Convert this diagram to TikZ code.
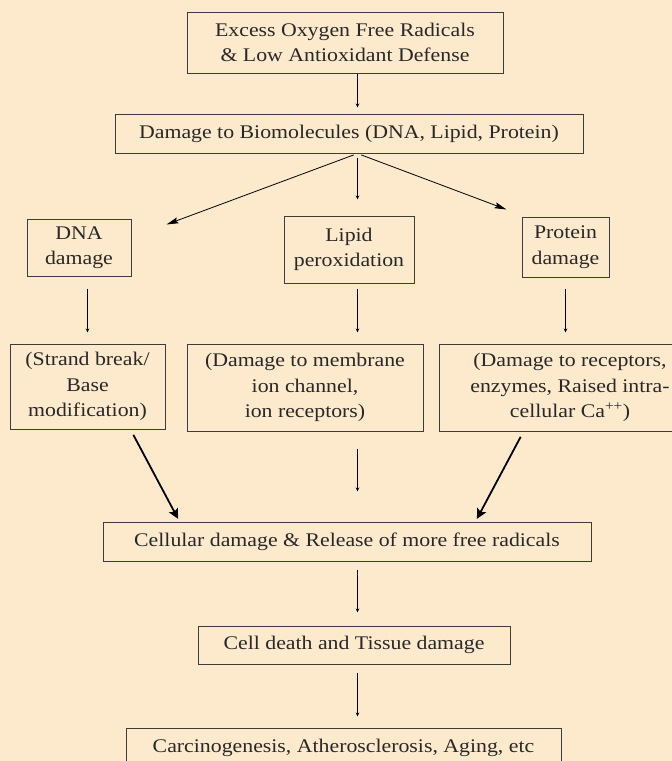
\documentclass[tikz,border=0pt]{standalone}
\usepackage{fontspec}
\setmainfont{Liberation Serif}[FakeStretch=1.13]
\usetikzlibrary{arrows.meta,positioning,calc}
\definecolor{paper}{RGB}{253,234,205}
\definecolor{boxline}{RGB}{60,60,60}
\definecolor{txt}{RGB}{40,40,40}
\tikzset{
block/.style = {draw=boxline, line width=1pt, rectangle, align=center, inner sep=0pt, text=txt, font=\fontsize{19.3}{25.5}\selectfont},
tmp/.style = {coordinate},
thin arrow/.style = {-{Stealth[length=4pt,width=3.5pt]}, line width=0.8pt},
fan arrow/.style = {-{Stealth[length=12pt,width=6pt,inset=2pt]}, line width=0.8pt},
thick arrow/.style = {-{Stealth[length=10pt,width=10pt,inset=2pt]}, line width=1.8pt}
}

\begin{document}
\begin{tikzpicture}[auto, node distance=100pt]
\useasboundingbox (0,0) rectangle (672pt,-761pt);
\fill[paper] (0,0) rectangle (672pt,-761pt);
\coordinate (axis) at (357.5pt,0);
% main column
\node[block, minimum width=316pt, minimum height=61pt] (excess) at (345pt,-42.5pt) {Excess Oxygen Free Radicals\\ \& Low Antioxidant Defense};
\node[block, below of=excess, node distance=91pt, xshift=4pt, minimum width=468pt, minimum height=39pt] (biomol) {Damage to Biomolecules (DNA, Lipid, Protein)};
\node[block, below of=biomol, node distance=116pt, minimum width=130pt, minimum height=67pt] (lipid) {Lipid\\peroxidation};
\node[block, left of=lipid, node distance=270pt, yshift=2pt, minimum width=104pt, minimum height=57pt] (dna) {DNA\\damage};
\node[block, right of=lipid, node distance=216.5pt, yshift=2.5pt, minimum width=87pt, minimum height=60pt] (protein) {Protein\\damage};
\node[block, below of=lipid, node distance=138pt, xshift=-44pt, minimum width=236pt, minimum height=87pt] (membrane) {(Damage to membrane\\ion channel,\\ion receptors)};
\node[block, left of=membrane, node distance=217.5pt, yshift=1pt, minimum width=155pt, minimum height=85pt] (strand) {(Strand break/\\Base\\modification)};
\node[block, right of=membrane, node distance=265pt, minimum width=262pt, minimum height=87pt] (receptors) {(Damage to receptors,\\enzymes, Raised intra-\\cellular Ca\textsuperscript{++})};
\node[block, below of=membrane, node distance=154pt, xshift=42pt, minimum width=488pt, minimum height=39pt] (cellular) {Cellular damage \& Release of more free radicals};
\node[block, below of=cellular, node distance=103.5pt, xshift=7pt, minimum width=312pt, minimum height=38pt] (death) {Cell death and Tissue damage};
\node[block, below of=death, node distance=102.5pt, xshift=-10.5pt, minimum width=435pt, minimum height=39pt] (carcino) {Carcinogenesis, Atherosclerosis, Aging, etc};
% free ends of the slanted arrows
\coordinate (dnatip) at ([xshift=35pt,yshift=-6pt]dna.north east);
\coordinate (proteintip) at ([xshift=-15pt,yshift=7pt]protein.north west);
\coordinate (strandfoot) at ([xshift=-35pt]strand.south east);
\coordinate (recfoot) at ([xshift=85pt]receptors.south west);
\coordinate (cellL) at ([xshift=77pt]cellular.north west);
\coordinate (cellR) at ([xshift=-116pt]cellular.north east);
% arrows
\draw[thin arrow, shorten >=6pt] (excess.south -| axis) -- (biomol.north -| axis);
\draw[fan arrow, shorten <=4pt] (biomol.south -| axis) -- (dnatip);
\draw[thin arrow, shorten <=4pt, shorten >=16pt] (biomol.south -| axis) -- (lipid.north -| axis);
\draw[fan arrow, shorten <=4pt] (biomol.south -| axis) -- (proteintip);
\draw[thin arrow, shorten <=12pt, shorten >=11pt] (dna.south -| strand.north) -- (strand.north);
\draw[thin arrow, shorten <=5pt, shorten >=11pt] (lipid.south -| axis) -- (membrane.north -| axis);
\draw[thin arrow, shorten <=11pt, shorten >=11pt] (protein.south) -- (protein.south |- receptors.north);
\draw[thick arrow, shorten <=6pt, shorten >=3pt] (strandfoot) -- (cellL);
\draw[thin arrow, shorten <=17pt, shorten >=30pt] (membrane.south -| axis) -- (cellular.north -| axis);
\draw[thick arrow, shorten <=6pt, shorten >=3pt] (recfoot) -- (cellR);
\draw[thin arrow, shorten <=8pt, shorten >=13pt] (cellular.south -| axis) -- (death.north -| axis);
\draw[thin arrow, shorten <=8pt, shorten >=11pt] (death.south -| axis) -- (carcino.north -| axis);
\end{tikzpicture}
\end{document}
